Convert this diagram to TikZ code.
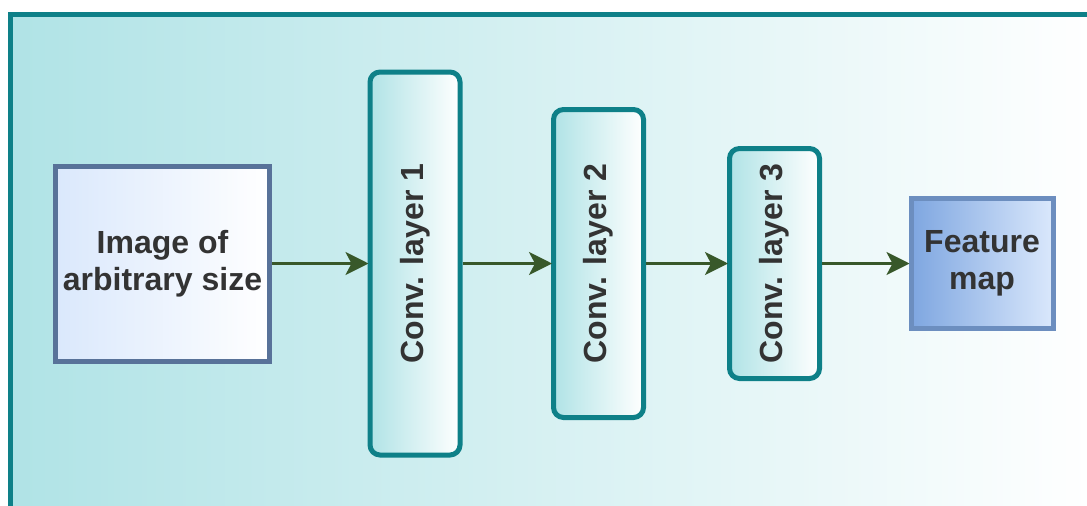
\documentclass[tikz,border=0pt]{standalone}
\usepackage{fontspec}
\setmainfont{Liberation Sans}
\usepackage{tikz}
\usetikzlibrary{arrows.meta}

\definecolor{frameteal}{RGB}{14,128,136}
\definecolor{layerfill}{RGB}{176,227,230}
\definecolor{imgblue}{RGB}{218,232,252}
\definecolor{imgedge}{RGB}{88,114,153}
\definecolor{featblue}{RGB}{126,166,224}
\definecolor{featedge}{RGB}{108,142,191}
\definecolor{arrowgreen}{RGB}{56,88,42}
\definecolor{textgray}{RGB}{51,51,51}

\begin{document}
\begin{tikzpicture}[x=1pt,y=-1pt,
    every node/.style={font=\fontsize{32}{37}\selectfont\bfseries, text=textgray, align=center, inner sep=0pt},
    layer/.style={draw=frameteal, line width=5pt, rounded corners=10pt, left color=layerfill, right color=white, minimum width=90pt},
    inbox/.style={draw=imgedge, line width=5pt, left color=imgblue, right color=white},
    outbox/.style={draw=featedge, line width=5pt, left color=featblue, right color=imgblue},
    flow/.style={draw=arrowgreen, line width=3pt, -{Stealth[length=23pt,width=23pt,inset=6pt]}, shorten >=-1pt}]
  \useasboundingbox (0,0) rectangle (1087,506);
  \clip (0,0) rectangle (1087,506);
  % Draw background panel
  \draw[line width=5.5pt, draw=frameteal, left color=layerfill, right color=white]
      (10.5,14.5) rectangle (1100,520);
  % Draw input, layers and output
  \node[inbox, minimum width=214pt, minimum height=195pt] (img) at (162.5,263.5) {Image of\\arbitrary size};
  \node[layer, minimum height=383pt] (conva) at (415,263.5) {\rotatebox{90}{Conv. layer 1}};
  \node[layer, minimum height=308pt] (convb) at (598.5,263.5) {\rotatebox{90}{Conv. layer 2}};
  \node[layer, minimum height=230pt] (convc) at (774.5,263.5) {\rotatebox{90}{Conv. layer 3}};
  \node[outbox, minimum width=142pt, minimum height=130pt] (feat) at (982,263.5) {Feature\\map};
  % Draw connections
  \draw[flow] (img.east) -- (conva.west);
  \draw[flow] (conva.east) -- (convb.west);
  \draw[flow] (convb.east) -- (convc.west);
  \draw[flow] (convc.east) -- (feat.west);
\end{tikzpicture}
\end{document}
